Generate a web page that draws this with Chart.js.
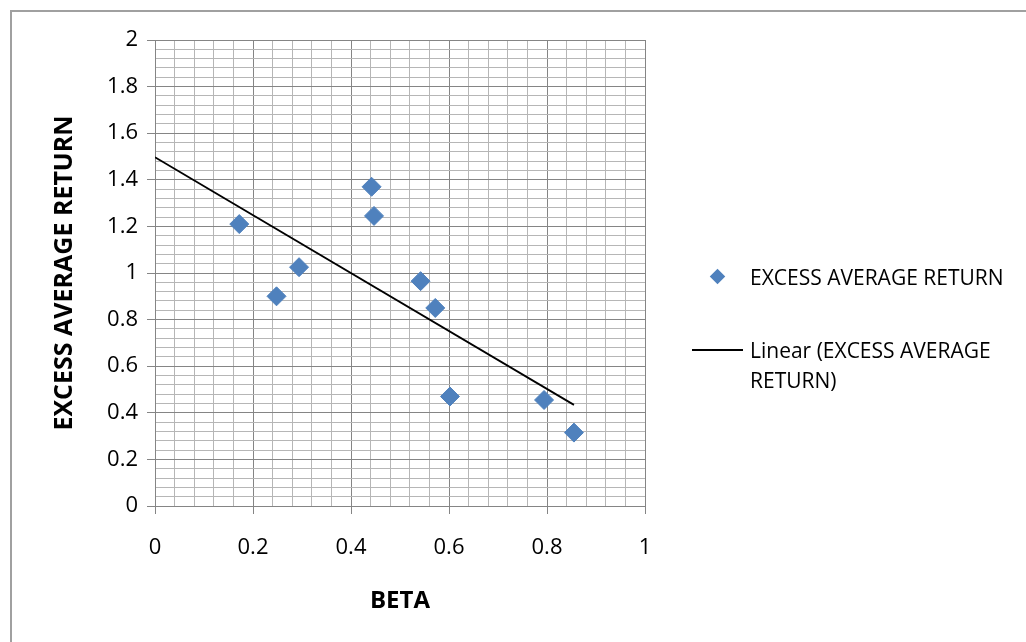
<!DOCTYPE html>
<html>
<head>
<meta charset="utf-8">
<script src="https://cdn.jsdelivr.net/npm/chart.js@4.4.1/dist/chart.umd.min.js"></script>
<style>
    body { margin: 0; background: #fff; }
    #wrap { position: relative; width: 1026px; height: 642px; overflow: hidden; }
    #frame { position: absolute; left: 10px; top: 10px; width: 2000px; height: 2000px;
             border-left: 2px solid #a0a0a0; border-top: 2px solid #a0a0a0; }
    #chart { position: absolute; left: 0; top: 0; }
    #legend { position: absolute; left: 690px; top: 0; font-family: "Open Sans", sans-serif;
              font-size: 21px; color: #000; }
    .leg-item { position: absolute; left: 0; width: 340px; }
    .leg-text { position: absolute; left: 60px; width: 265px; line-height: 30px; }
    .leg-diamond { position: absolute; left: 22px; top: 9px; width: 11px; height: 11px;
                   background: #4f81bd; transform: rotate(45deg); }
    .leg-line { position: absolute; left: 2px; top: 14px; width: 51px; height: 2px; background: #000; }
</style>
</head>
<body>
<div id="wrap">
    <div id="frame"></div>
    <canvas id="chart" width="1026" height="642"></canvas>
    <div id="legend"></div>
</div>
<script>
    const betaValues = [0.172, 0.248, 0.294, 0.442, 0.447, 0.542, 0.572, 0.602, 0.794, 0.855];
    const returnValues = [1.21, 0.90, 1.025, 1.37, 1.245, 0.965, 0.85, 0.47, 0.455, 0.315];

    // trendline end points
    const trendBeta = [0, 0.855];
    const trendReturn = [1.497, 0.434];

    const xTickLabels = ["0", "0.2", "0.4", "0.6", "0.8", "1"];
    const yTickLabels = ["0", "0.2", "0.4", "0.6", "0.8", "1", "1.2", "1.4", "1.6", "1.8", "2"];

    const seriesName = "EXCESS AVERAGE RETURN";
    const trendName = "Linear (EXCESS AVERAGE RETURN)";

    const MAJOR = "#858585";
    const MINOR = "#b6b6b6";

    function isMajor(v) {
        const r = v / 0.2;
        return Math.abs(r - Math.round(r)) < 1e-6;
    }

    function majorLabel(labels) {
        return (value) => isMajor(value) ? labels[Math.round(value / 0.2)] : "";
    }

    Chart.defaults.font.family = "'Open Sans', sans-serif";
    Chart.defaults.color = "#000";

    const scatterPoints = betaValues.map((b, i) => ({ x: b, y: returnValues[i] }));
    const trendPoints = trendBeta.map((b, i) => ({ x: b, y: trendReturn[i] }));

    const ctx = document.getElementById("chart").getContext("2d");
    const chart = new Chart(ctx, {
        type: "scatter",
        data: {
            datasets: [
                {
                    label: seriesName,
                    data: scatterPoints,
                    pointStyle: "rectRot",
                    pointRadius: 9.5,
                    pointHoverRadius: 9.5,
                    backgroundColor: "#4f81bd",
                    borderColor: "#4f81bd",
                    borderWidth: 1,
                    order: 1
                },
                {
                    label: trendName,
                    type: "line",
                    data: trendPoints,
                    borderColor: "#000",
                    borderWidth: 1.75,
                    pointRadius: 0,
                    fill: false,
                    order: 2
                }
            ]
        },
        options: {
            responsive: false,
            animation: false,
            devicePixelRatio: 1,
            layout: { padding: { top: 40, right: 381, bottom: 0, left: 0 } },
            plugins: {
                legend: { display: false },
                tooltip: { enabled: false }
            },
            scales: {
                x: {
                    type: "linear",
                    min: 0,
                    max: 1,
                    ticks: {
                        stepSize: 0.04,
                        autoSkip: false,
                        maxRotation: 0,
                        minRotation: 0,
                        padding: 21,
                        font: { size: 22 },
                        callback: majorLabel(xTickLabels)
                    },
                    grid: {
                        color: (c) => isMajor(c.tick.value) ? MAJOR : MINOR,
                        tickColor: (c) => isMajor(c.tick.value) ? MAJOR : "rgba(0,0,0,0)",
                        tickLength: 8,
                        lineWidth: 1
                    },
                    border: { color: MAJOR },
                    title: {
                        display: true,
                        text: "BETA",
                        font: { size: 24, weight: "bold" },
                        padding: { top: 0, bottom: 26 }
                    },
                    afterFit: (scale) => { scale.height = 136; }
                },
                y: {
                    type: "linear",
                    min: 0,
                    max: 2,
                    ticks: {
                        stepSize: 0.04,
                        autoSkip: false,
                        padding: 9,
                        font: { size: 22 },
                        callback: majorLabel(yTickLabels)
                    },
                    grid: {
                        color: (c) => isMajor(c.tick.value) ? MAJOR : MINOR,
                        tickColor: (c) => isMajor(c.tick.value) ? MAJOR : "rgba(0,0,0,0)",
                        tickLength: 8,
                        lineWidth: 1
                    },
                    border: { color: MAJOR },
                    title: {
                        display: true,
                        text: seriesName,
                        font: { size: 25, weight: "bold" },
                        padding: { top: 50, bottom: 0 }
                    },
                    afterFit: (scale) => { scale.width = 155; }
                }
            }
        }
    });

    // legend built from the datasets, wrapped like the original
    const legend = document.getElementById("legend");
    const legendTops = [262, 335];
    chart.data.datasets.forEach((ds, i) => {
        const item = document.createElement("div");
        item.className = "leg-item";
        item.style.top = legendTops[i] + "px";
        const mark = document.createElement("div");
        mark.className = ds.type === "line" ? "leg-line" : "leg-diamond";
        const text = document.createElement("div");
        text.className = "leg-text";
        text.textContent = ds.label;
        if (i === 0) text.style.whiteSpace = "nowrap";
        item.appendChild(mark);
        item.appendChild(text);
        legend.appendChild(item);
    });
</script>
</body>
</html>
